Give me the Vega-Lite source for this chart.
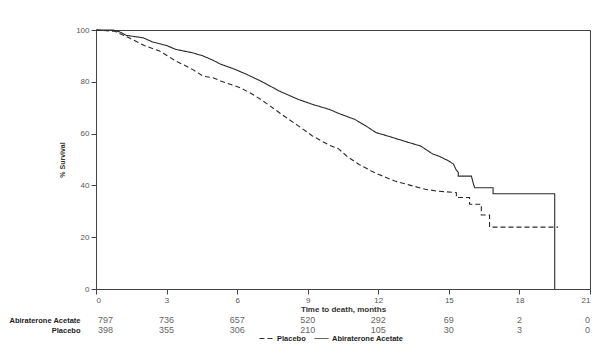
{
  "$schema": "https://vega.github.io/schema/vega-lite/v6.json",
  "padding": {"left": 8, "top": 25, "right": 5, "bottom": 5},
  "background": "white",
  "config": {
    "font": "Liberation Sans",
    "axis": {"labelFont": "Liberation Sans", "titleFont": "Liberation Sans", "domainColor": "#444", "tickColor": "#444", "labelColor": "#555", "titleColor": "#333"},
    "legend": {"labelFont": "Liberation Sans"}
  },
  "datasets": {
    "km": [
      {"group": "Abiraterone Acetate", "i": 1, "t": 0, "s": 100},
      {"group": "Abiraterone Acetate", "i": 2, "t": 0.7, "s": 100},
      {"group": "Abiraterone Acetate", "i": 3, "t": 1.0, "s": 99.3},
      {"group": "Abiraterone Acetate", "i": 4, "t": 1.3, "s": 97.9},
      {"group": "Abiraterone Acetate", "i": 5, "t": 2.0, "s": 97.0},
      {"group": "Abiraterone Acetate", "i": 6, "t": 2.4, "s": 95.4},
      {"group": "Abiraterone Acetate", "i": 7, "t": 3.0, "s": 94.0},
      {"group": "Abiraterone Acetate", "i": 8, "t": 3.4, "s": 92.5},
      {"group": "Abiraterone Acetate", "i": 9, "t": 4.1, "s": 91.2},
      {"group": "Abiraterone Acetate", "i": 10, "t": 4.55, "s": 90.0},
      {"group": "Abiraterone Acetate", "i": 11, "t": 5.0, "s": 88.2},
      {"group": "Abiraterone Acetate", "i": 12, "t": 5.3, "s": 86.8},
      {"group": "Abiraterone Acetate", "i": 13, "t": 5.8, "s": 85.2},
      {"group": "Abiraterone Acetate", "i": 14, "t": 6.4, "s": 82.9},
      {"group": "Abiraterone Acetate", "i": 15, "t": 7.0, "s": 80.3},
      {"group": "Abiraterone Acetate", "i": 16, "t": 7.8, "s": 76.4},
      {"group": "Abiraterone Acetate", "i": 17, "t": 8.6, "s": 73.2},
      {"group": "Abiraterone Acetate", "i": 18, "t": 9.2, "s": 71.3},
      {"group": "Abiraterone Acetate", "i": 19, "t": 9.9, "s": 69.4},
      {"group": "Abiraterone Acetate", "i": 20, "t": 10.4, "s": 67.5},
      {"group": "Abiraterone Acetate", "i": 21, "t": 11.0, "s": 65.5},
      {"group": "Abiraterone Acetate", "i": 22, "t": 11.5, "s": 62.8},
      {"group": "Abiraterone Acetate", "i": 23, "t": 11.9, "s": 60.4},
      {"group": "Abiraterone Acetate", "i": 24, "t": 12.5, "s": 58.8},
      {"group": "Abiraterone Acetate", "i": 25, "t": 13.1, "s": 57.1},
      {"group": "Abiraterone Acetate", "i": 26, "t": 13.8, "s": 55.2},
      {"group": "Abiraterone Acetate", "i": 27, "t": 14.3, "s": 52.2},
      {"group": "Abiraterone Acetate", "i": 28, "t": 14.6, "s": 51.2},
      {"group": "Abiraterone Acetate", "i": 29, "t": 15.0, "s": 49.4},
      {"group": "Abiraterone Acetate", "i": 30, "t": 15.2, "s": 48.2},
      {"group": "Abiraterone Acetate", "i": 31, "t": 15.3, "s": 46.2},
      {"group": "Abiraterone Acetate", "i": 32, "t": 15.4, "s": 45.0},
      {"group": "Abiraterone Acetate", "i": 33, "t": 15.4, "s": 43.6},
      {"group": "Abiraterone Acetate", "i": 34, "t": 15.96, "s": 43.6},
      {"group": "Abiraterone Acetate", "i": 35, "t": 16.03, "s": 41.0},
      {"group": "Abiraterone Acetate", "i": 36, "t": 16.1, "s": 39.1},
      {"group": "Abiraterone Acetate", "i": 37, "t": 16.88, "s": 39.1},
      {"group": "Abiraterone Acetate", "i": 38, "t": 16.88, "s": 36.8},
      {"group": "Abiraterone Acetate", "i": 39, "t": 19.5, "s": 36.8},
      {"group": "Abiraterone Acetate", "i": 40, "t": 19.5, "s": 0},
      {"group": "Placebo", "i": 1, "t": 0, "s": 100},
      {"group": "Placebo", "i": 2, "t": 0.8, "s": 99.5},
      {"group": "Placebo", "i": 3, "t": 1.4, "s": 97},
      {"group": "Placebo", "i": 4, "t": 2.1, "s": 93.8},
      {"group": "Placebo", "i": 5, "t": 2.7, "s": 91.9},
      {"group": "Placebo", "i": 6, "t": 3.4, "s": 88},
      {"group": "Placebo", "i": 7, "t": 4.1, "s": 84.8},
      {"group": "Placebo", "i": 8, "t": 4.55, "s": 82.2},
      {"group": "Placebo", "i": 9, "t": 5.0, "s": 81.5},
      {"group": "Placebo", "i": 10, "t": 5.3, "s": 80.3},
      {"group": "Placebo", "i": 11, "t": 6.1, "s": 77.8},
      {"group": "Placebo", "i": 12, "t": 6.6, "s": 75.5},
      {"group": "Placebo", "i": 13, "t": 7.1, "s": 72.6},
      {"group": "Placebo", "i": 14, "t": 8.1, "s": 66.1},
      {"group": "Placebo", "i": 15, "t": 8.6, "s": 63},
      {"group": "Placebo", "i": 16, "t": 9.2, "s": 59.1},
      {"group": "Placebo", "i": 17, "t": 9.9, "s": 55.6},
      {"group": "Placebo", "i": 18, "t": 10.3, "s": 54.2},
      {"group": "Placebo", "i": 19, "t": 10.7, "s": 51},
      {"group": "Placebo", "i": 20, "t": 11.2, "s": 48},
      {"group": "Placebo", "i": 21, "t": 11.7, "s": 45.6},
      {"group": "Placebo", "i": 22, "t": 12.0, "s": 44.3},
      {"group": "Placebo", "i": 23, "t": 12.7, "s": 41.7},
      {"group": "Placebo", "i": 24, "t": 13.3, "s": 40.2},
      {"group": "Placebo", "i": 25, "t": 14.0, "s": 38.5},
      {"group": "Placebo", "i": 26, "t": 14.5, "s": 37.8},
      {"group": "Placebo", "i": 27, "t": 15.32, "s": 37.2},
      {"group": "Placebo", "i": 28, "t": 15.32, "s": 35.3},
      {"group": "Placebo", "i": 29, "t": 15.88, "s": 35.3},
      {"group": "Placebo", "i": 30, "t": 15.88, "s": 32.7},
      {"group": "Placebo", "i": 31, "t": 16.38, "s": 32.7},
      {"group": "Placebo", "i": 32, "t": 16.38, "s": 28.6},
      {"group": "Placebo", "i": 33, "t": 16.73, "s": 28.6},
      {"group": "Placebo", "i": 34, "t": 16.73, "s": 23.9},
      {"group": "Placebo", "i": 35, "t": 19.64, "s": 23.9}
    ],
    "risk": [
      {"group": "Abiraterone Acetate", "t": 0, "n": 797},
      {"group": "Abiraterone Acetate", "t": 3, "n": 736},
      {"group": "Abiraterone Acetate", "t": 6, "n": 657},
      {"group": "Abiraterone Acetate", "t": 9, "n": 520},
      {"group": "Abiraterone Acetate", "t": 12, "n": 292},
      {"group": "Abiraterone Acetate", "t": 15, "n": 69},
      {"group": "Abiraterone Acetate", "t": 18, "n": 2},
      {"group": "Abiraterone Acetate", "t": 21, "n": 0},
      {"group": "Placebo", "t": 0, "n": 398},
      {"group": "Placebo", "t": 3, "n": 355},
      {"group": "Placebo", "t": 6, "n": 306},
      {"group": "Placebo", "t": 9, "n": 210},
      {"group": "Placebo", "t": 12, "n": 105},
      {"group": "Placebo", "t": 15, "n": 30},
      {"group": "Placebo", "t": 18, "n": 3},
      {"group": "Placebo", "t": 21, "n": 0}
    ]
  },
  "vconcat": [
    {
      "width": 494,
      "height": 259,
      "view": {"stroke": "#444"},
      "data": {"name": "km"},
      "mark": {"type": "line", "interpolate": "linear", "strokeWidth": 1.1, "color": "#2a2a2a"},
      "encoding": {
        "x": {"field": "t", "type": "quantitative", "scale": {"domain": [0, 21], "nice": false},
          "axis": {"values": [0, 3, 6, 9, 12, 15, 18, 21], "title": "Time to death, months", "grid": false, "labelFontSize": 8, "titleFontSize": 8, "titleFontWeight": "bold", "titlePadding": 1, "tickSize": 5, "labelPadding": 2}},
        "y": {"field": "s", "type": "quantitative", "scale": {"domain": [0, 100], "nice": false},
          "axis": {"values": [0, 20, 40, 60, 80, 100], "title": "% Survival", "grid": false, "labelFontSize": 8, "titleFontSize": 7, "titleFontWeight": "bold", "titlePadding": 10, "tickSize": 5, "labelPadding": 2}},
        "order": {"field": "i", "type": "quantitative"},
        "strokeDash": {"field": "group", "type": "nominal",
          "scale": {"domain": ["Placebo", "Abiraterone Acetate"], "range": [[5, 3], [1, 0]]},
          "legend": {"title": null, "orient": "none", "legendX": 163, "legendY": 301, "direction": "horizontal", "symbolType": "stroke", "symbolSize": 196, "symbolStrokeColor": "#333", "symbolStrokeWidth": 1, "labelFontSize": 7.5, "labelFontWeight": "bold", "labelColor": "#222", "columnPadding": 6, "labelOffset": 3}}
      }
    },
    {
      "width": 494,
      "height": 20,
      "view": {"stroke": null},
      "data": {"name": "risk"},
      "encoding": {
        "x": {"field": "t", "type": "quantitative", "scale": {"domain": [0, 21], "nice": false}, "axis": null},
        "y": {"field": "group", "type": "nominal", "sort": ["Abiraterone Acetate", "Placebo"], "scale": {"paddingInner": 0, "paddingOuter": 0},
          "axis": {"title": null, "ticks": false, "domain": false, "labelFontWeight": "bold", "labelFontSize": 7.5, "labelPadding": 16, "labelColor": "#222"}},
        "text": {"field": "n", "type": "quantitative"}
      },
      "layer": [
        {"transform": [{"filter": "datum.t == 0"}], "mark": {"type": "text", "fontSize": 9, "color": "#666", "align": "left", "dx": 2}},
        {"transform": [{"filter": "datum.t > 0 && datum.t < 21"}], "mark": {"type": "text", "fontSize": 9, "color": "#666", "align": "center"}},
        {"transform": [{"filter": "datum.t == 21"}], "mark": {"type": "text", "fontSize": 9, "color": "#666", "align": "right"}}
      ]
    }
  ],
  "spacing": 1
}
